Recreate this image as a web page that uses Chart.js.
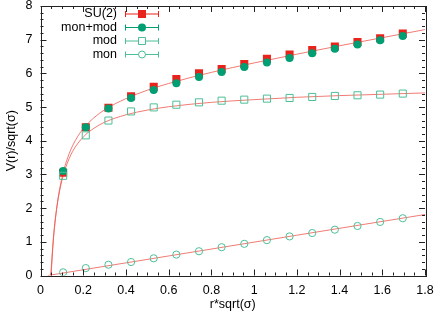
<!DOCTYPE html>
<html>
<head>
<meta charset="utf-8">
<script src="https://cdn.jsdelivr.net/npm/chart.js@4/dist/chart.umd.min.js"></script>
<style>
  html, body { margin: 0; padding: 0; background: #fff; }
  #wrap { width: 436px; height: 314px; }
</style>
</head>
<body>
<div id="wrap"><canvas id="chart" width="436" height="314"></canvas></div>
<script>
// distances (x axis)
const rValues = [0.106, 0.212, 0.318, 0.424, 0.53, 0.636, 0.742, 0.848, 0.954, 1.06, 1.166, 1.272, 1.378, 1.484, 1.59, 1.696];

// potentials
const su2 = [3.05, 4.40, 4.98, 5.32, 5.60, 5.83, 6.00, 6.13, 6.28, 6.43, 6.56, 6.69, 6.80, 6.93, 7.04, 7.18];
const monMod = [3.10, 4.40, 4.96, 5.27, 5.51, 5.71, 5.89, 6.04, 6.19, 6.32, 6.46, 6.60, 6.73, 6.86, 6.98, 7.11];
const mod = [2.96, 4.16, 4.60, 4.87, 4.99, 5.07, 5.14, 5.19, 5.22, 5.25, 5.27, 5.30, 5.33, 5.35, 5.37, 5.40];
const mon = [0.095, 0.22, 0.32, 0.40, 0.51, 0.62, 0.72, 0.84, 0.94, 1.05, 1.16, 1.26, 1.36, 1.47, 1.59, 1.70];

// fit curves
const su2FitR = [0.0495, 0.06, 0.07, 0.08, 0.09, 0.1, 0.12, 0.15, 0.2, 0.25, 0.3, 0.4, 0.5, 0.6, 0.8, 1.0, 1.2, 1.4, 1.6, 1.8];
const su2FitV = [0, 1.03, 1.69, 2.19, 2.58, 2.89, 3.36, 3.85, 4.36, 4.68, 4.92, 5.25, 5.50, 5.70, 6.03, 6.31, 6.57, 6.82, 7.06, 7.30];
const modFitR = [0.0479, 0.06, 0.07, 0.08, 0.09, 0.1, 0.12, 0.15, 0.2, 0.25, 0.3, 0.4, 0.5, 0.6, 0.8, 1.0, 1.2, 1.4, 1.6, 1.8];
const modFitV = [0, 1.09, 1.71, 2.17, 2.53, 2.81, 3.24, 3.68, 4.11, 4.37, 4.55, 4.77, 4.91, 5.01, 5.14, 5.22, 5.29, 5.34, 5.38, 5.42];
const monFitR = [0.034, 0.6, 1.2, 1.8];
const monFitV = [0, 0.58, 1.196, 1.81];

const xTicks = [0, 0.2, 0.4, 0.6, 0.8, 1, 1.2, 1.4, 1.6, 1.8];
const yTicks = [0, 1, 2, 3, 4, 5, 6, 7, 8];

const RED = "#e8231b";
const GREEN = "#009e73";
const LIGHT = "#4cbf99";
const FIT = "rgba(238, 90, 80, 0.8)";
const FONT = "Liberation Sans, Arial, sans-serif";

const toPoints = (xs, ys) => xs.map((x, i) => ({ x, y: ys[i] }));

const legendItems = [
  { label: "SU(2)", color: RED, style: "rect", fill: true },
  { label: "mon+mod", color: GREEN, style: "circle", fill: true },
  { label: "mod", color: LIGHT, style: "rect", fill: false },
  { label: "mon", color: LIGHT, style: "circle", fill: false }
];

// gnuplot-like frame with inward ticks and the key
const framePlugin = {
  id: "frame",
  afterDraw(chart) {
    const { ctx, chartArea: a, scales } = chart;
    const xs = scales.x, ys = scales.y;
    ctx.save();
    ctx.strokeStyle = "#222";
    ctx.lineWidth = 1;
    ctx.strokeRect(Math.round(a.left) + 0.5, Math.round(a.top) + 0.5,
      Math.round(a.right - a.left), Math.round(a.bottom - a.top));
    ctx.beginPath();
    for (let v = 0; v <= 1.8001; v += 0.05) {
      const px = Math.round(xs.getPixelForValue(v)) + 0.5;
      const major = Math.abs(v / 0.2 - Math.round(v / 0.2)) < 1e-6;
      const len = major ? 6 : 3;
      ctx.moveTo(px, a.bottom); ctx.lineTo(px, a.bottom - len);
      ctx.moveTo(px, a.top); ctx.lineTo(px, a.top + len);
    }
    for (let v = 0; v <= 8.001; v += 0.2) {
      const py = Math.round(ys.getPixelForValue(v)) + 0.5;
      const major = Math.abs(v - Math.round(v)) < 1e-6;
      const len = major ? 6 : 3;
      ctx.moveTo(a.left, py); ctx.lineTo(a.left + len, py);
      ctx.moveTo(a.right, py); ctx.lineTo(a.right - len, py);
    }
    ctx.stroke();

    // key
    ctx.font = "12.5px " + FONT;
    ctx.textAlign = "right";
    ctx.textBaseline = "middle";
    legendItems.forEach((item, i) => {
      const y = 14 + i * 13.5;
      ctx.fillStyle = "#000";
      ctx.fillText(item.label, 117, y);
      ctx.strokeStyle = item.color;
      ctx.fillStyle = item.color;
      ctx.beginPath();
      ctx.moveTo(125, y); ctx.lineTo(159, y);
      ctx.moveTo(125.5, y - 3); ctx.lineTo(125.5, y + 3);
      ctx.moveTo(158.5, y - 3); ctx.lineTo(158.5, y + 3);
      ctx.stroke();
      ctx.beginPath();
      if (item.style === "rect") {
        const s = item.fill ? 8 : 7;
        ctx.rect(142 - s / 2, y - s / 2, s, s);
      } else {
        ctx.arc(142, y, item.fill ? 4 : 3.5, 0, Math.PI * 2);
      }
      if (item.fill) { ctx.fill(); } else { ctx.fillStyle = "#fff"; ctx.fill(); ctx.stroke(); }
    });
    ctx.restore();
  }
};

const fitLine = (xs, ys) => ({
  type: "line",
  data: toPoints(xs, ys),
  borderColor: FIT,
  borderWidth: 1,
  pointRadius: 0,
  cubicInterpolationMode: "monotone",
  fill: false
});

new Chart(document.getElementById("chart"), {
  type: "scatter",
  data: {
    datasets: [
      { label: "mon", data: toPoints(rValues, mon), pointStyle: "circle", pointRadius: 3.6,
        borderColor: LIGHT, backgroundColor: "rgba(0,0,0,0)", borderWidth: 1 },
      { label: "mod", data: toPoints(rValues, mod), pointStyle: "rect", pointRadius: 5,
        borderColor: LIGHT, backgroundColor: "rgba(0,0,0,0)", borderWidth: 1 },
      { label: "mon+mod", data: toPoints(rValues, monMod), pointStyle: "circle", pointRadius: 4,
        borderColor: GREEN, backgroundColor: GREEN, borderWidth: 0 },
      { label: "SU(2)", data: toPoints(rValues, su2), pointStyle: "rect", pointRadius: 5.7,
        borderColor: RED, backgroundColor: RED, borderWidth: 0 },
      fitLine(su2FitR, su2FitV),
      fitLine(modFitR, modFitV),
      fitLine(monFitR, monFitV)
    ]
  },
  options: {
    responsive: false,
    animation: false,
    layout: { padding: { top: 5, right: 11, left: 0, bottom: 0 } },
    plugins: { legend: { display: false }, tooltip: { enabled: false } },
    scales: {
      x: {
        type: "linear", min: 0, max: 1.8,
        afterBuildTicks: s => { s.ticks = xTicks.map(v => ({ value: v })); },
        afterFit: s => { s.height = 38.5; s.paddingLeft = 0; s.paddingRight = 0; },
        ticks: { color: "#000", font: { family: FONT, size: 12.5 }, padding: 8,
          maxRotation: 0, callback: v => String(+v.toFixed(1)) },
        grid: { display: false, drawTicks: false },
        border: { display: false },
        title: { display: true, text: "r*sqrt(σ)", color: "#000",
          font: { family: FONT, size: 12.5 }, padding: { top: 2, bottom: 2 } }
      },
      y: {
        type: "linear", min: 0, max: 8,
        afterBuildTicks: s => { s.ticks = yTicks.map(v => ({ value: v })); },
        afterFit: s => { s.width = 40.5; s.paddingTop = 0; s.paddingBottom = 0; },
        ticks: { color: "#000", font: { family: FONT, size: 12.5 }, padding: 8 },
        grid: { display: false, drawTicks: false },
        border: { display: false },
        title: { display: true, text: "V(r)/sqrt(σ)", color: "#000",
          font: { family: FONT, size: 12.5 }, padding: { top: 4, bottom: 0 } }
      }
    }
  },
  plugins: [framePlugin]
});
</script>
</body>
</html>
